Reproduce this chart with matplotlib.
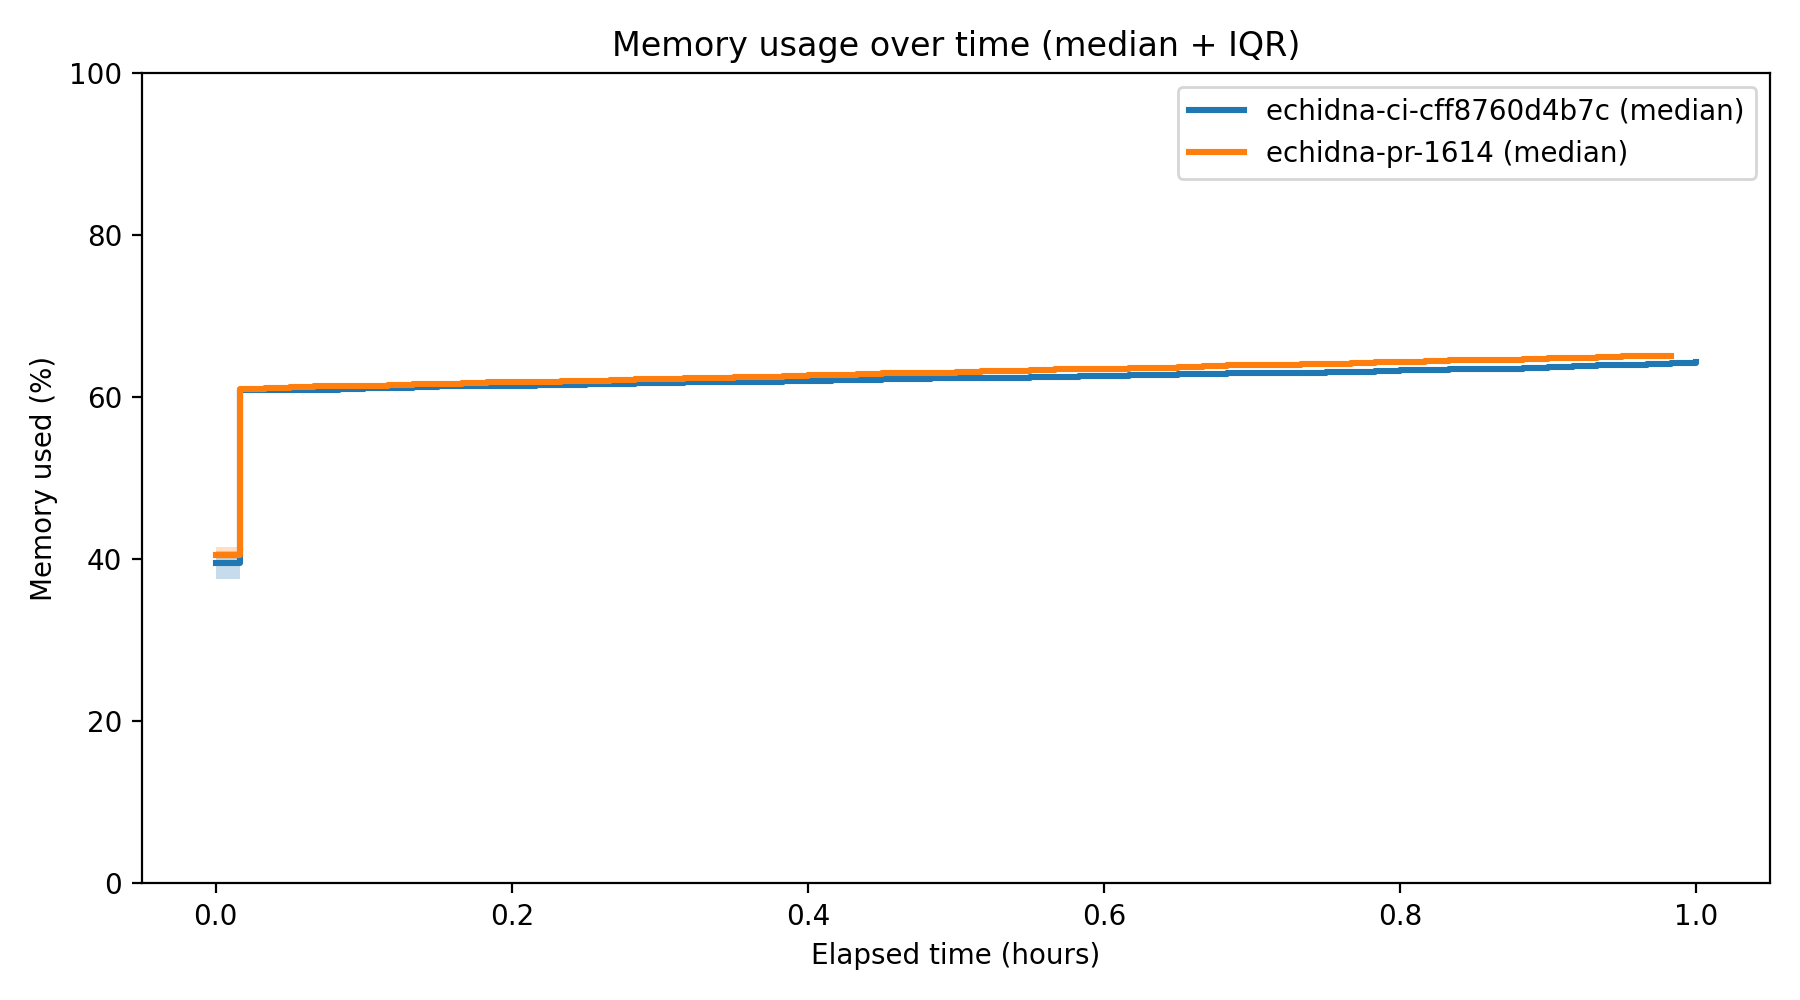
import matplotlib
matplotlib.use("Agg")
import matplotlib.pyplot as plt
import numpy as np

minutes_a = list(range(0, 61))
median_a = [39.5, 60.8, 60.8, 60.9, 60.9, 61.0, 61.1, 61.1, 61.2, 61.3, 61.3,
            61.4, 61.4, 61.5, 61.5, 61.6, 61.6, 61.7, 61.7, 61.8, 61.8,
            61.9, 61.9, 62.0, 62.0, 62.1, 62.1, 62.2, 62.2, 62.3, 62.3,
            62.4, 62.4, 62.5, 62.5, 62.6, 62.6, 62.7, 62.7, 62.8, 62.8,
            62.9, 62.9, 63.0, 63.0, 63.1, 63.1, 63.2, 63.3, 63.3, 63.4,
            63.5, 63.5, 63.6, 63.7, 63.8, 63.9, 64.0, 64.1, 64.2, 64.3]
q1_a = [37.5] + [v - 0.2 for v in median_a[1:]]
q3_a = [41.0] + [v + 0.2 for v in median_a[1:]]

minutes_b = list(range(0, 60))
median_b = [40.5, 61.0, 61.1, 61.2, 61.3, 61.4, 61.4, 61.5, 61.6, 61.6, 61.7,
            61.8, 61.8, 61.9, 62.0, 62.0, 62.1, 62.2, 62.2, 62.3, 62.4,
            62.5, 62.5, 62.6, 62.7, 62.7, 62.8, 62.9, 62.9, 63.0, 63.1,
            63.2, 63.2, 63.3, 63.4, 63.4, 63.5, 63.6, 63.6, 63.7, 63.8,
            63.9, 63.9, 64.0, 64.1, 64.1, 64.2, 64.3, 64.3, 64.4, 64.5,
            64.6, 64.6, 64.7, 64.8, 64.8, 64.9, 65.0, 65.0, 65.1]
q1_b = [40.0] + [v - 0.2 for v in median_b[1:]]
q3_b = [41.5] + [v + 0.2 for v in median_b[1:]]

labels = ["echidna-ci-cff8760d4b7c (median)", "echidna-pr-1614 (median)"]
colors = ["#1f77b4", "#ff7f0e"]

fig, ax = plt.subplots(figsize=(9, 5), dpi=200)
for mins, med, lo, hi, lab, c in [(minutes_a, median_a, q1_a, q3_a, labels[0], colors[0]),
                                  (minutes_b, median_b, q1_b, q3_b, labels[1], colors[1])]:
    x = np.array(mins) / 60.0
    ax.fill_between(x, lo, hi, step="post", color=c, alpha=0.25, linewidth=0)
    ax.step(x, med, where="post", color=c, linewidth=2.2, label=lab)

ax.set_ylim(0, 100)
ax.set_xlim(-0.05, 1.05)
ax.set_title("Memory usage over time (median + IQR)")
ax.set_xlabel("Elapsed time (hours)")
ax.set_ylabel("Memory used (%)")
ax.legend(loc="upper right")
fig.tight_layout()
fig.savefig("out.png", dpi=200)
